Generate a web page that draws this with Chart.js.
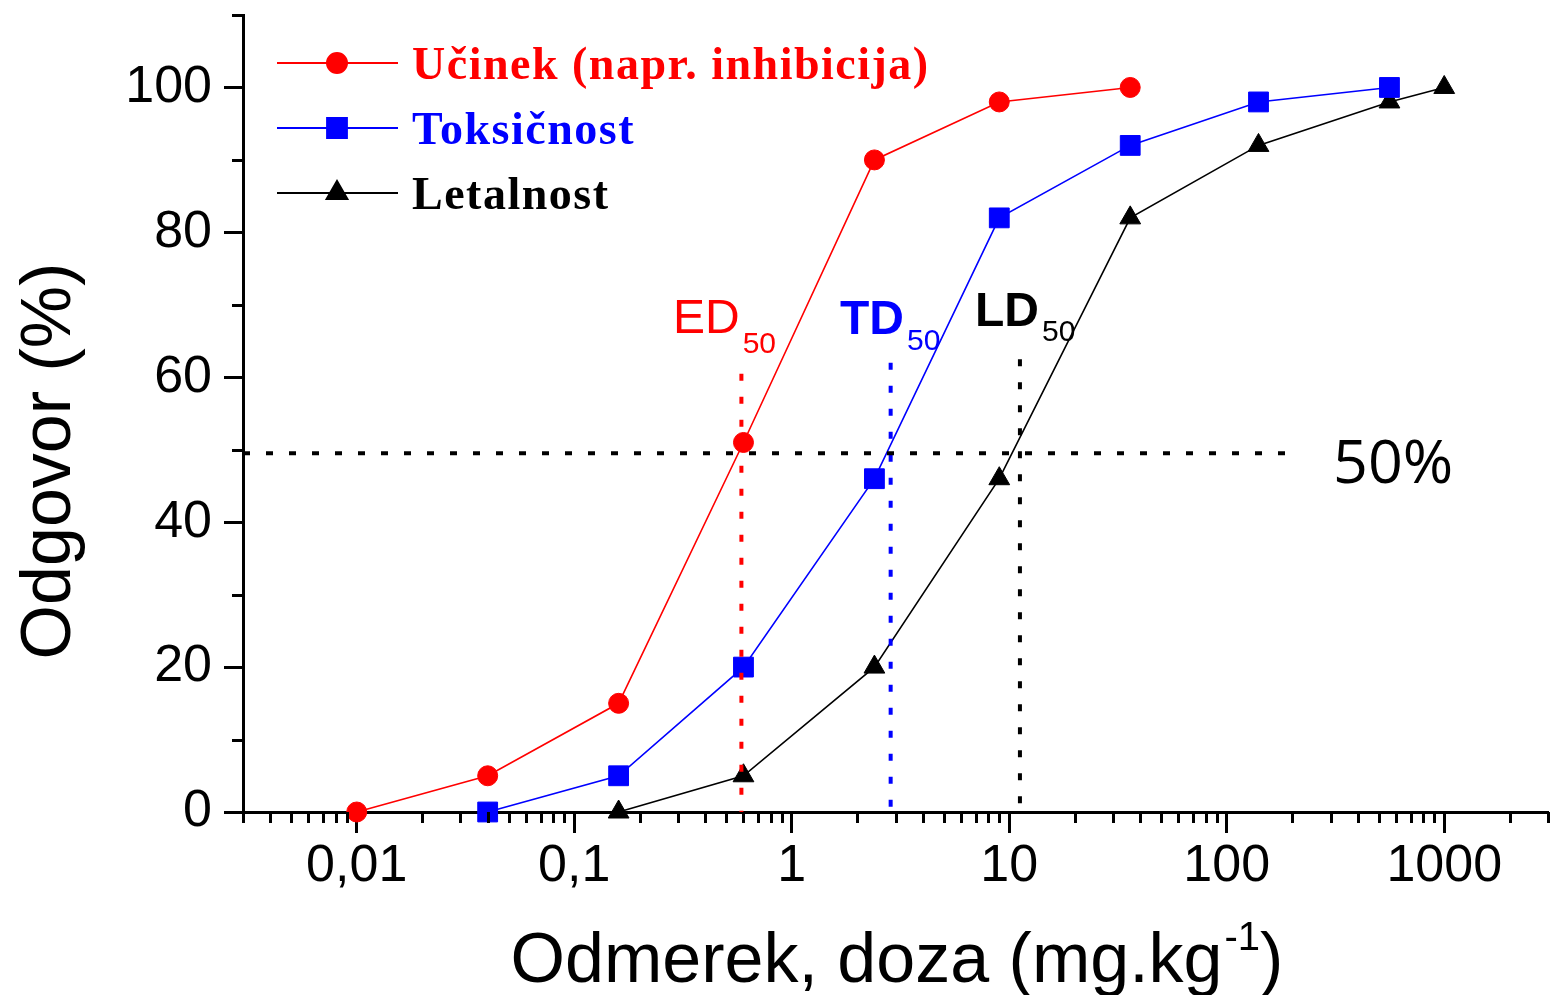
<!DOCTYPE html>
<html><head><meta charset="utf-8">
<script src="https://cdn.jsdelivr.net/npm/chart.js@4.4.1/dist/chart.umd.min.js"></script>
<style>html,body{margin:0;padding:0;background:#fff;overflow:hidden}canvas{display:block}</style>
</head><body>
<canvas id="c" width="1550" height="995"></canvas>
<script>
// ---- data ----
const seriesLabels = ['Učinek (napr. inhibicija)', 'Toksičnost', 'Letalnost'];
const effectDose = [0.01, 0.04, 0.16, 0.6, 2.4, 9, 36];
const effectResp = [0, 5, 15, 51, 90, 98, 100];
const toxDose = [0.04, 0.16, 0.6, 2.4, 9, 36, 140, 560];
const toxResp = [0, 5, 20, 46, 82, 92, 98, 100];
const lethDose = [0.16, 0.6, 2.4, 9, 36, 140, 560, 1000];
const lethResp = [0, 5, 20, 46, 82, 92, 98, 100];
const xTickValues = [0.01, 0.1, 1, 10, 100, 1000];
const yTickValues = [0, 20, 40, 60, 80, 100];
const yMinorValues = [10, 30, 50, 70, 90, 110];
const ref50Level = [49.5, 49.5];
const ref50Dose = [0.003, 215];
const d50Doses = [0.587, 2.85, 11.2];      // ED50, TD50, LD50
const d50Tops = [60.5, 62, 62.5];
const d50Names = ['ED', 'TD', 'LD'];
const xMin = 0.003, xMax = 3000, yMin = 0, yMax = 110;

// ---- styles ----
const RED = '#ff0000', BLUE = '#0000ff', BLACK = '#000000';
const colors = [RED, BLUE, BLACK];
const pointStyles = ['circle', 'rect', 'triangle'];
const pointRadii = [10, 14, 12];

function pts(xs, ys) { return xs.map((x, i) => ({x: x, y: ys[i]})); }

const seriesDefs = [[effectDose, effectResp], [toxDose, toxResp], [lethDose, lethResp]];
const datasets = [];
const dotted = [7, 16];
datasets.push({label: 'ref50', data: pts(ref50Dose, ref50Level), borderColor: BLACK, borderWidth: 4,
  borderDash: dotted, pointRadius: 0, order: -1, clip: false});
d50Doses.forEach((d, i) => {
  datasets.push({label: 'ref' + d50Names[i], data: [{x: d, y: d50Tops[i]}, {x: d, y: 0}],
    borderColor: colors[i], borderWidth: 4, borderDash: dotted, pointRadius: 0, order: -1, clip: false});
});
seriesDefs.forEach((s, i) => {
  datasets.push({label: seriesLabels[i], data: pts(s[0], s[1]), borderColor: colors[i],
    backgroundColor: colors[i], borderWidth: 1.6, pointStyle: pointStyles[i], pointRadius: pointRadii[i],
    pointBorderWidth: 1, pointBackgroundColor: colors[i], pointBorderColor: colors[i], order: 1 + i, clip: false});
});

function noPad(s) { s.paddingTop = 0; s.paddingBottom = 0; s.paddingLeft = 0; s.paddingRight = 0; }

const overlay = {
  id: 'overlay',
  afterDraw(chart) {
    const ctx = chart.ctx;
    const xs = chart.scales.x, ys = chart.scales.y;
    const area = chart.chartArea;
    ctx.save();
    ctx.strokeStyle = BLACK; ctx.lineWidth = 3; ctx.lineCap = 'butt';
    for (let e = -3; e <= 3; e++) {
      for (let m = 2; m <= 9; m++) {
        const v = m * Math.pow(10, e);
        if (v < xMin * 0.999 || v > xMax * 1.001) continue;
        const px = Math.round(xs.getPixelForValue(v)) + 0.5;
        ctx.beginPath(); ctx.moveTo(px, area.bottom); ctx.lineTo(px, area.bottom + 11); ctx.stroke();
      }
    }
    yMinorValues.forEach(v => {
      const py = Math.round(ys.getPixelForValue(v)) + 0.5;
      ctx.beginPath(); ctx.moveTo(area.left - 11, py); ctx.lineTo(area.left, py); ctx.stroke();
    });
    ctx.fillStyle = BLACK;
    ctx.font = '70px "Liberation Sans", Arial, sans-serif';
    ctx.textBaseline = 'alphabetic';
    ctx.save();
    ctx.translate(70, 461); ctx.rotate(-Math.PI / 2);
    ctx.textAlign = 'center';
    ctx.fillText('Odgovor (%)', 0, 0);
    ctx.restore();
    const t1 = 'Odmerek, doza (mg.kg', t2 = '-1', t3 = ')';
    ctx.font = '70px "Liberation Sans", Arial, sans-serif';
    const w1 = ctx.measureText(t1).width, w3 = ctx.measureText(t3).width;
    ctx.font = '40px "Liberation Sans", Arial, sans-serif';
    const w2 = ctx.measureText(t2).width;
    let tx = 896 - (w1 + w2 + w3) / 2;
    ctx.textAlign = 'left';
    ctx.font = '70px "Liberation Sans", Arial, sans-serif';
    ctx.fillText(t1, tx, 982);
    ctx.font = '40px "Liberation Sans", Arial, sans-serif';
    ctx.fillText(t2, tx + w1 + 2, 950);
    ctx.font = '70px "Liberation Sans", Arial, sans-serif';
    ctx.fillText(t3, tx + w1 + w2 + 2, 982);
    const labs = [
      {x: 673, y: 333, sy: 353, bold: false},
      {x: 840, y: 334, sy: 350, bold: true},
      {x: 975, y: 326, sy: 341, bold: true}
    ];
    labs.forEach((L, i) => {
      ctx.fillStyle = colors[i];
      ctx.font = (L.bold ? 'bold ' : '') + '48px "Liberation Sans", Arial, sans-serif';
      ctx.fillText(d50Names[i], L.x, L.y);
      const w = ctx.measureText(d50Names[i]).width;
      ctx.font = '30px "Liberation Sans", Arial, sans-serif';
      ctx.fillText('50', L.x + w + 3, L.sy);
    });
    ctx.fillStyle = BLACK;
    ctx.font = '61px "Open Sans", "Noto Sans", sans-serif';
    ctx.fillText('50%', 1333, 483);
    const rows = [63, 128, 193];
    rows.forEach((ry, i) => {
      ctx.strokeStyle = colors[i]; ctx.lineWidth = 2;
      ctx.beginPath(); ctx.moveTo(277, ry); ctx.lineTo(398, ry); ctx.stroke();
      ctx.fillStyle = colors[i];
      Chart.helpers.drawPoint(ctx, {pointStyle: pointStyles[i], radius: pointRadii[i], borderWidth: 1, rotation: 0}, 337, ry);
      ctx.fill();
      ctx.font = 'bold 46px "Liberation Serif", "Times New Roman", serif';
      try { ctx.letterSpacing = '1.5px'; } catch (e) {}
      ctx.fillText(seriesLabels[i], 412, ry + 16);
      try { ctx.letterSpacing = '0px'; } catch (e) {}
    });
    ctx.restore();
  }
};

new Chart(document.getElementById('c'), {
  type: 'line',
  data: {datasets: datasets},
  options: {
    responsive: false,
    animation: false,
    devicePixelRatio: 1,
    layout: {autoPadding: false, padding: {top: 15, right: 2, bottom: 0, left: 0}},
    plugins: {legend: {display: false}, tooltip: {enabled: false}},
    elements: {line: {tension: 0}},
    scales: {
      x: {
        type: 'logarithmic', min: xMin, max: xMax,
        afterBuildTicks: s => { s.ticks = xTickValues.map(v => ({value: v})); },
        afterFit: s => { s.height = 183; noPad(s); },
        grid: {display: true, drawOnChartArea: false, drawTicks: true, tickLength: 21, tickWidth: 3, tickColor: BLACK},
        border: {display: true, color: BLACK, width: 3},
        ticks: {
          autoSkip: false, maxRotation: 0, padding: 2, color: BLACK,
          font: {family: '"Liberation Sans", Arial, sans-serif', size: 52},
          callback: v => String(v).replace('.', ',')
        }
      },
      y: {
        type: 'linear', min: yMin, max: yMax,
        afterBuildTicks: s => { s.ticks = yTickValues.map(v => ({value: v})); },
        afterFit: s => { s.width = 243; noPad(s); },
        grid: {display: true, drawOnChartArea: false, drawTicks: true, tickLength: 19, tickWidth: 3, tickColor: BLACK},
        border: {display: true, color: BLACK, width: 3},
        ticks: {
          padding: 12, color: BLACK,
          font: {family: '"Liberation Sans", Arial, sans-serif', size: 52},
          callback: v => String(v)
        }
      }
    }
  },
  plugins: [overlay]
});
</script>
</body></html>
